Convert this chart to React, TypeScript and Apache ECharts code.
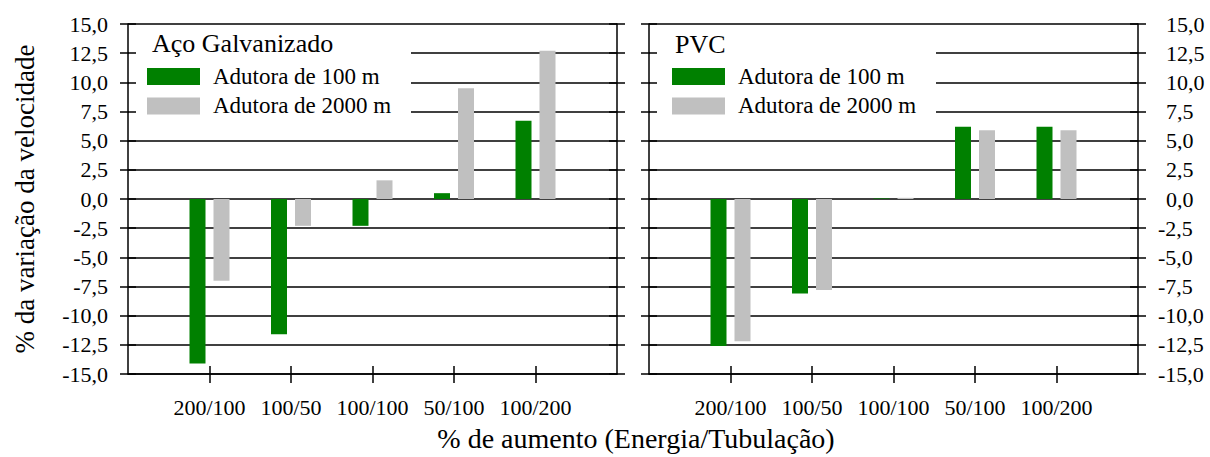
import React, { useEffect, useRef } from "react";
import * as echarts from "echarts";

const categories = ["", "200/100", "100/50", "100/100", "50/100", "100/200", ""];
const acoAdutora100 = [null, -14.1, -11.6, -2.3, 0.5, 6.7, null];
const acoAdutora2000 = [null, -7.0, -2.3, 1.6, 9.5, 12.7, null];
const pvcAdutora100 = [null, -12.6, -8.1, 0.05, 6.2, 6.2, null];
const pvcAdutora2000 = [null, -12.2, -7.8, 0.1, 5.9, 5.9, null];
const seriesNames = ["Adutora de 100 m", "Adutora de 2000 m"];
const panelTitles = ["Aço Galvanizado", "PVC"];
const yAxisTitle = "% da variação da velocidade";
const xAxisTitle = "% de aumento (Energia/Tubulação)";

const FONT = "Liberation Serif, serif";
const GREEN = "#008000";
const GRAY = "#c0c0c0";

const fmt = (v: number) => v.toFixed(1).replace(".", ",");

export default function App() {
  const ref = useRef<HTMLDivElement>(null);
  useEffect(() => {
    if (!ref.current) return;
    const chart = echarts.init(ref.current, undefined, { renderer: "svg" });
    const grids = [
      { left: 128, top: 24, width: 489, height: 350 },
      { left: 649, top: 24, width: 489, height: 350 },
    ];
    const tickInterval = (i: number) => i > 0 && i < categories.length - 1;
    const xAxes: any[] = [];
    const yAxes: any[] = [];
    const base = { min: -15, max: 15, interval: 2.5 };
    grids.forEach((_, g) => {
      xAxes.push({
        type: "category",
        gridIndex: g,
        data: categories,
        boundaryGap: false,
        position: "bottom",
        z: 5,
        axisLine: { show: true, onZero: false, lineStyle: { color: "#000", width: 1.5 } },
        axisTick: { show: true, inside: false, length: 9, interval: tickInterval, lineStyle: { color: "#000", width: 1.5 } },
        axisLabel: { show: true, interval: 0, margin: 22, color: "#000", fontSize: 22, fontFamily: FONT },
        splitLine: { show: false },
      });
      xAxes.push({
        type: "category",
        gridIndex: g,
        data: categories,
        boundaryGap: false,
        position: "bottom",
        z: 5,
        axisLine: { show: false, onZero: false },
        axisTick: { show: true, inside: true, length: 8, interval: tickInterval, lineStyle: { color: "#000", width: 1.5 } },
        axisLabel: { show: false },
        splitLine: { show: false },
      });
      yAxes.push({
        ...base,
        type: "value",
        gridIndex: g,
        position: "left",
        z: 0,
        axisLine: { show: false },
        axisTick: { show: false },
        axisLabel: { show: false },
        splitLine: { show: true, lineStyle: { color: "#000", width: 1.5 } },
      });
      yAxes.push({
        ...base,
        type: "value",
        gridIndex: g,
        position: "left",
        z: 5,
        name: g === 0 ? yAxisTitle : "",
        nameLocation: "middle",
        nameGap: 90,
        nameRotate: 90,
        nameTextStyle: { color: "#000", fontSize: 27, fontFamily: FONT },
        axisLine: { show: true, onZero: false, lineStyle: { color: "#000", width: 1.5 } },
        axisTick: { show: true, inside: false, length: 8, lineStyle: { color: "#000", width: 1.5 } },
        axisLabel: {
          show: g === 0,
          margin: 20,
          color: "#000",
          fontSize: 22,
          fontFamily: FONT,
          formatter: (v: number) => fmt(v),
        },
        splitLine: { show: false },
      });
      yAxes.push({
        ...base,
        type: "value",
        gridIndex: g,
        position: "left",
        z: 5,
        axisLine: { show: false, onZero: false },
        axisTick: { show: true, inside: true, length: 8, lineStyle: { color: "#000", width: 1.5 } },
        axisLabel: { show: false },
        splitLine: { show: false },
      });
      yAxes.push({
        ...base,
        type: "value",
        gridIndex: g,
        position: "right",
        z: 5,
        axisLine: { show: true, onZero: false, lineStyle: { color: "#000", width: 1.5 } },
        axisTick: { show: true, inside: false, length: 8, lineStyle: { color: "#000", width: 1.5 } },
        axisLabel: {
          show: g === 1,
          margin: 20,
          color: "#000",
          fontSize: 22,
          fontFamily: FONT,
          formatter: (v: number) => (v < 0 ? "{n|" + fmt(v) + "}" : "{p|" + fmt(v) + "}"),
          rich: {
            n: { fontSize: 22, fontFamily: FONT, color: "#000" },
            p: { fontSize: 22, fontFamily: FONT, color: "#000", padding: [0, 0, 0, 8] },
          },
        },
        splitLine: { show: false },
      });
      yAxes.push({
        ...base,
        type: "value",
        gridIndex: g,
        position: "right",
        z: 5,
        axisLine: { show: false, onZero: false },
        axisTick: { show: true, inside: true, length: 8, lineStyle: { color: "#000", width: 1.5 } },
        axisLabel: { show: false },
        splitLine: { show: false },
      });
    });

    const mkBar = (name: string, data: any[], color: string, g: number) => ({
      type: "bar",
      name,
      data,
      xAxisIndex: g * 2,
      yAxisIndex: g * 5,
      barWidth: 16,
      barGap: "50%",
      itemStyle: { color },
      z: 2,
    });

    const legendBase = {
      orient: "vertical",
      top: 65,
      padding: 0,
      itemWidth: 53,
      itemHeight: 17,
      itemGap: 6.4,
      icon: "rect",
      selectedMode: false,
      data: seriesNames,
      z: 4,
      textStyle: { color: "#000", fontSize: 23, lineHeight: 23, fontFamily: FONT, padding: [0, 0, 0, 8] },
    };

    chart.setOption({
      animation: false,
      backgroundColor: "#fff",
      textStyle: { fontFamily: FONT },
      grid: grids.map((g) => ({ ...g, containLabel: false })),
      xAxis: xAxes,
      yAxis: yAxes,
      title: [
        {
          text: panelTitles[0],
          left: 152,
          top: 30,
          padding: 0,
          textStyle: { color: "#000", fontSize: 26, fontWeight: "normal", fontFamily: FONT },
        },
        {
          text: panelTitles[1],
          left: 675,
          top: 31,
          padding: 0,
          textStyle: { color: "#000", fontSize: 26, fontWeight: "normal", fontFamily: FONT },
        },
      ],
      legend: [
        { ...legendBase, left: 147 },
        { ...legendBase, left: 672 },
      ],
      graphic: [
        { type: "rect", z: 3, shape: { x: 129, y: 25, width: 282, height: 102 }, style: { fill: "#fff" } },
        { type: "rect", z: 3, shape: { x: 650, y: 25, width: 286, height: 102 }, style: { fill: "#fff" } },
        {
          type: "text",
          z: 6,
          x: 636,
          y: 438,
          style: {
            text: xAxisTitle,
            fill: "#000",
            fontSize: 28,
            fontFamily: FONT,
            textAlign: "center",
            textVerticalAlign: "middle",
          },
        },
      ],
      series: [
        mkBar(seriesNames[0], acoAdutora100, GREEN, 0),
        mkBar(seriesNames[1], acoAdutora2000, GRAY, 0),
        mkBar(seriesNames[0], pvcAdutora100, GREEN, 1),
        mkBar(seriesNames[1], pvcAdutora2000, GRAY, 1),
      ],
    });
    return () => chart.dispose();
  }, []);
  return (
    <div
      ref={ref}
      style={{ position: "fixed", left: 0, top: 0, width: 1210, height: 457, background: "#fff" }}
    />
  );
}
